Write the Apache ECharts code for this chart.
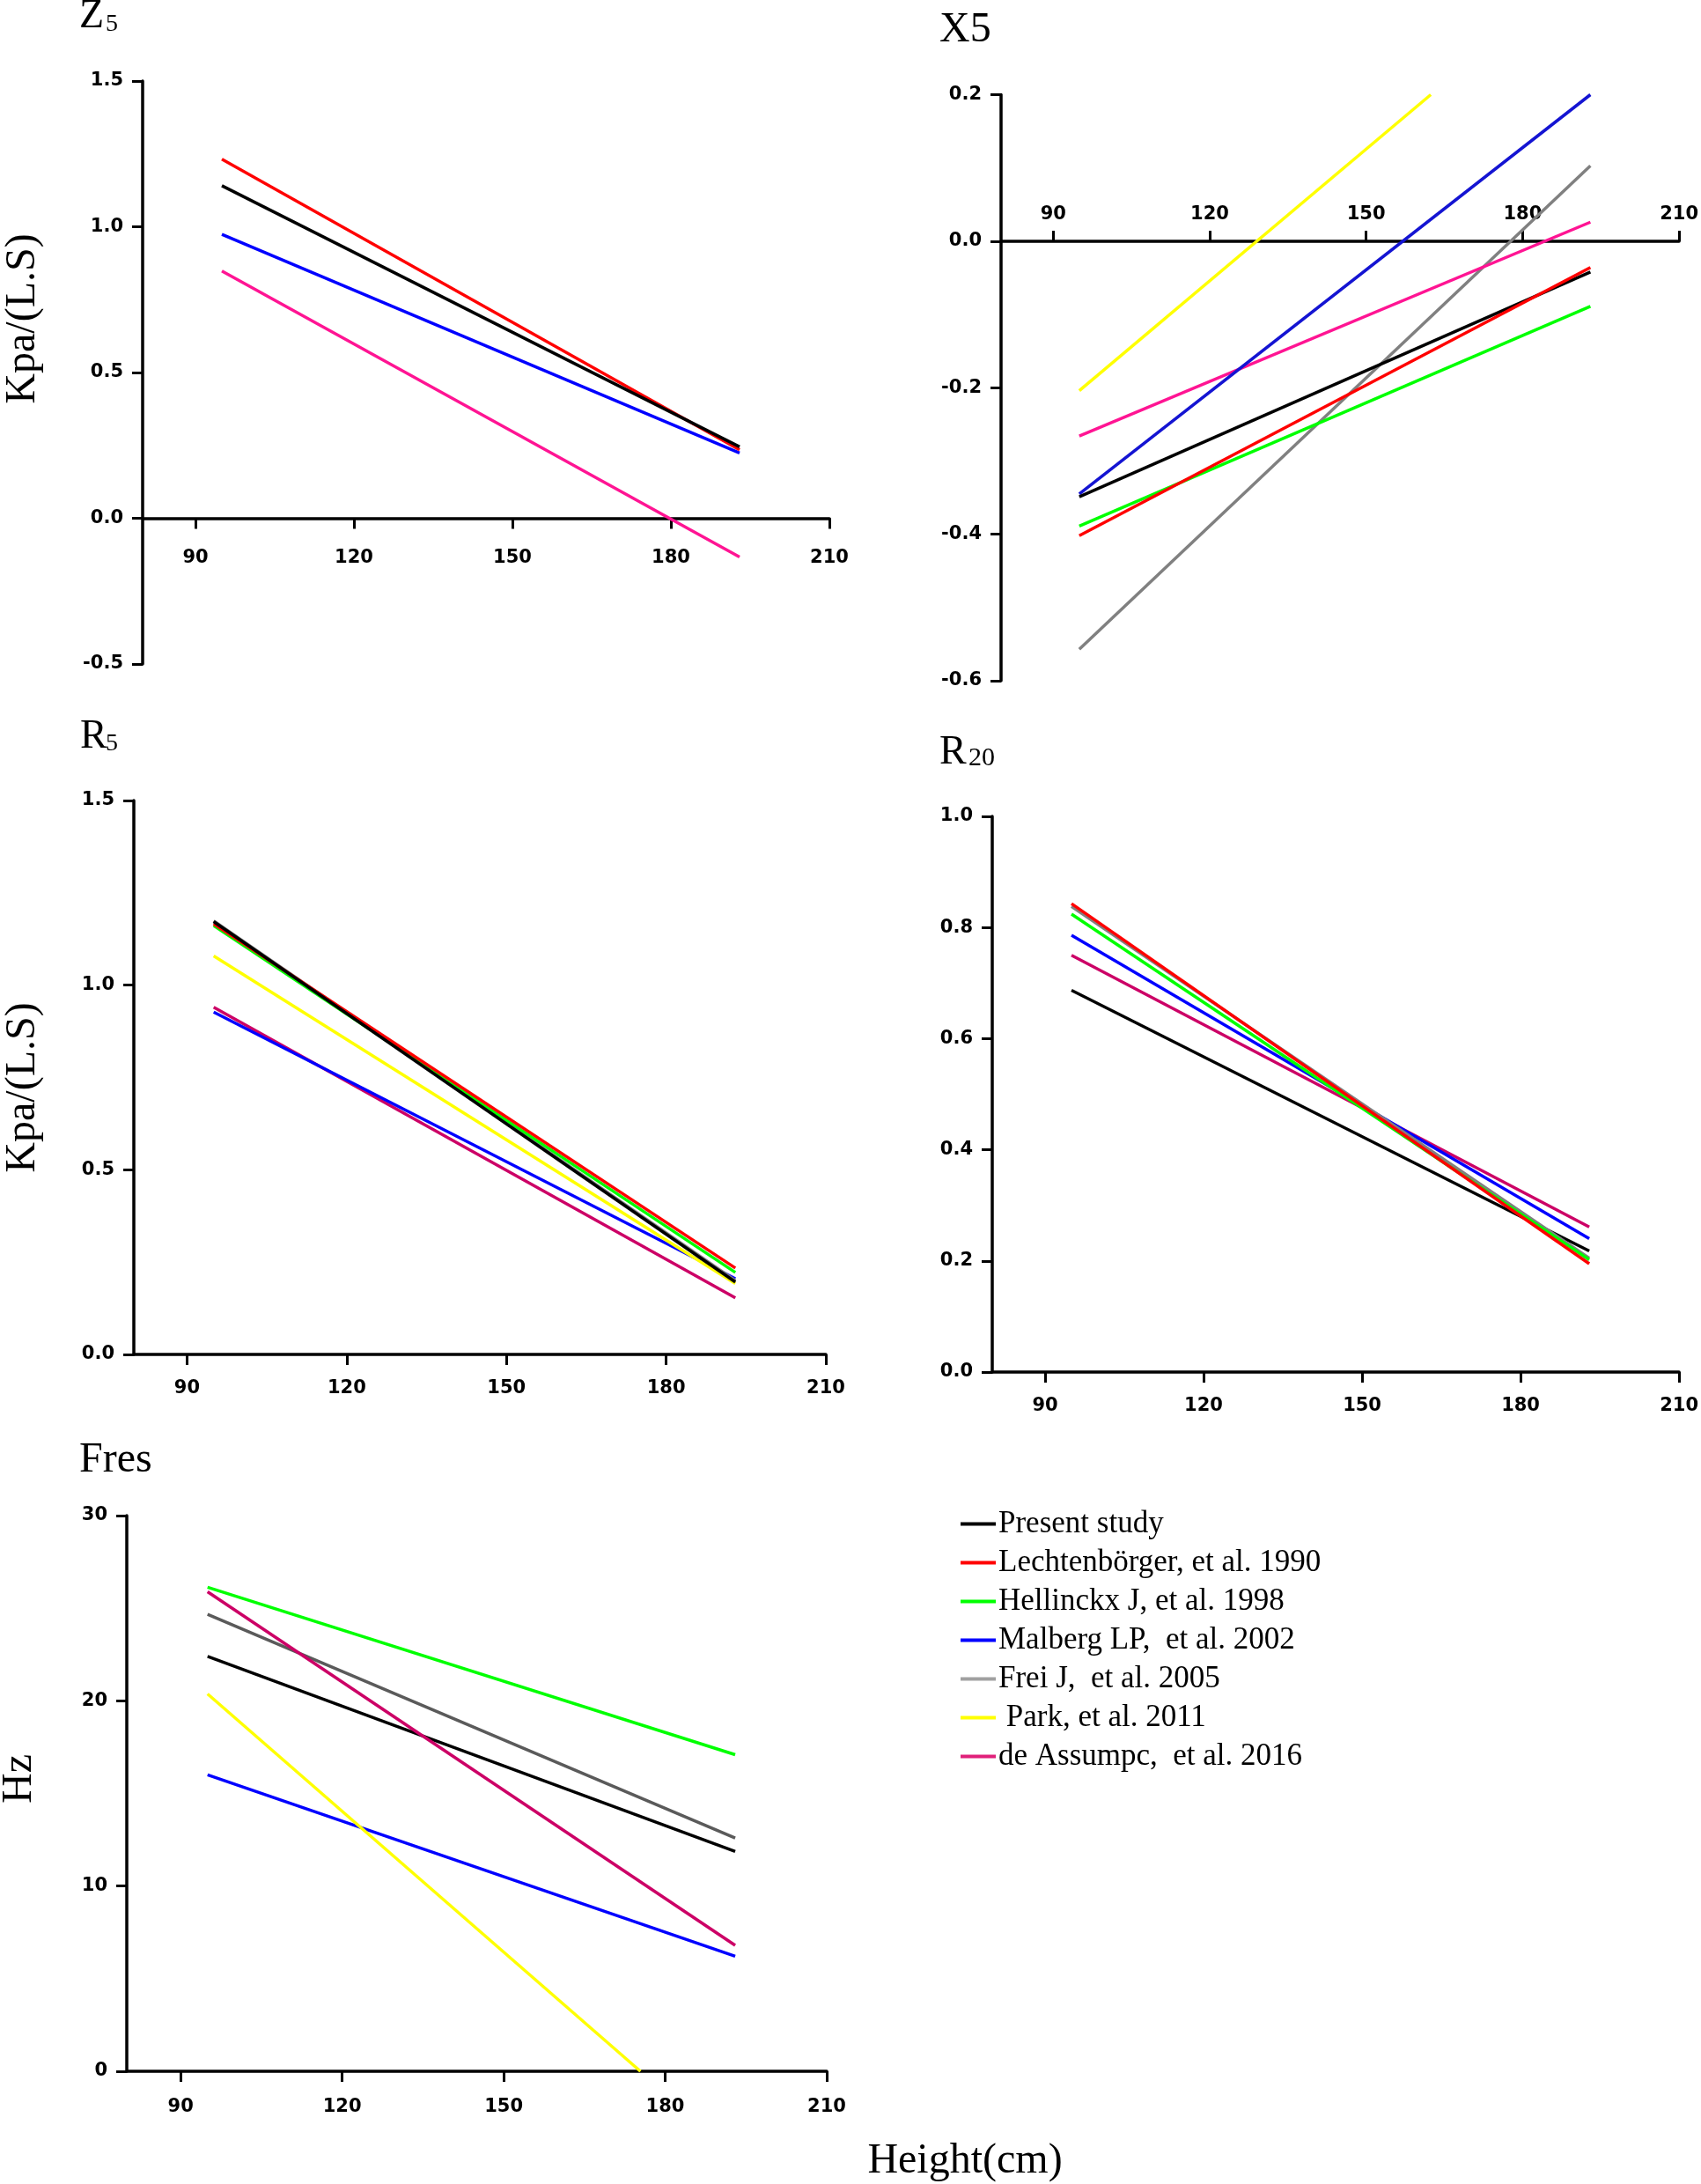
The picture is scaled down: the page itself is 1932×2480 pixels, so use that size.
<!DOCTYPE html>
<html><head><meta charset="utf-8">
<script src="https://cdn.jsdelivr.net/npm/echarts@6/dist/echarts.min.js"></script>
<style>html,body{margin:0;padding:0;background:#fff}#c{width:1932px;height:2480px}</style>
</head><body><div id="c"></div>
<script>
// ---------- data ----------
const xTickValues = [90, 120, 150, 180, 210];
const seriesNames = ['Present study', 'Lechtenbörger, et al. 1990', 'Hellinckx J, et al. 1998',
  'Malberg LP,  et al. 2002', 'Frei J,  et al. 2005', ' Park, et al. 2011', 'de Assumpc,  et al. 2016'];

// Z5 (Kpa/(L.S)) : [height, value]
const z5Present = [[95, 1.141], [193, 0.245]];
const z5Lecht   = [[95, 1.232], [193, 0.235]];
const z5Malberg = [[95, 0.974], [193, 0.224]];
const z5Assump  = [[95, 0.848], [193, -0.133]];

// X5
const x5Present = [[95, -0.349], [193, -0.042]];
const x5Lecht   = [[95, -0.402], [193, -0.036]];
const x5Hell    = [[95, -0.389], [193, -0.089]];
const x5Malberg = [[95, -0.345], [193, 0.200]];
const x5Frei    = [[95, -0.557], [193, 0.103]];
const x5Park    = [[95, -0.204], [162.4, 0.200]];
const x5Assump  = [[95, -0.266], [193, 0.026]];

// R5
const r5Present = [[95, 1.172], [193, 0.196]];
const r5Lecht   = [[95, 1.166], [193, 0.234]];
const r5Hell    = [[95, 1.161], [193, 0.222]];
const r5Malberg = [[95, 0.927], [193, 0.205]];
const r5Frei    = [[95, 1.174], [193, 0.200]];
const r5Park    = [[95, 1.079], [193, 0.192]];
const r5Assump  = [[95, 0.940], [193, 0.153]];

// R20
const r20Present = [[95, 0.687], [193, 0.218]];
const r20Lecht   = [[95, 0.843], [193, 0.195]];
const r20Hell    = [[95, 0.824], [193, 0.202]];
const r20Malberg = [[95, 0.786], [193, 0.240]];
const r20Frei    = [[95, 0.838], [193, 0.205]];
const r20Assump  = [[95, 0.750], [193, 0.261]];

// Fres (Hz)
const fresPresent = [[95, 22.4], [193, 11.87]];
const fresHell    = [[95, 26.13], [193, 17.09]];
const fresMalberg = [[95, 16.0], [193, 6.21]];
const fresFrei    = [[95, 24.67], [193, 12.59]];
const fresPark    = [[95, 20.37], [175.4, 0]];
const fresAssump  = [[95, 25.89], [193, 6.8]];

// ---------- layout / style ----------
const C = {black:'#000000', red:'#FF0000', green:'#00FF00', blue:'#0000FF', gray:'#808080',
           yellow:'#FFFF00', pink:'#FF1493', crimson:'#CC0066', darkblue:'#1414D2', dgray:'#5A5A5A'};

const panels = [
  { grid:{left:162, top:92, width:780, height:662}, y:{min:-0.5, max:1.5, interval:0.5, dec:1},
    xPos:'bottom', xMargin:-131,
    series:[[6, z5Assump, C.pink],[3, z5Malberg, C.blue],[1, z5Lecht, C.red],[0, z5Present, C.black]] },
  { grid:{left:1137, top:107.5, width:778, height:665.5}, y:{min:-0.6, max:0.2, interval:0.2, dec:1},
    xPos:'top', xMargin:-147,
    series:[[4, x5Frei, C.gray],[5, x5Park, C.yellow],[6, x5Assump, C.pink],[2, x5Hell, C.green],
            [3, x5Malberg, C.darkblue],[0, x5Present, C.black],[1, x5Lecht, C.red]] },
  { grid:{left:152, top:909, width:786, height:629}, y:{min:0, max:1.5, interval:0.5, dec:1},
    xPos:'bottom', xMargin:28,
    series:[[6, r5Assump, C.crimson],[3, r5Malberg, C.blue],[5, r5Park, C.yellow],[4, r5Frei, C.gray],
            [2, r5Hell, C.green],[1, r5Lecht, C.red],[0, r5Present, C.black]] },
  { grid:{left:1127, top:927, width:788, height:631}, y:{min:0, max:1.0, interval:0.2, dec:1},
    xPos:'bottom', xMargin:28,
    series:[[0, r20Present, C.black],[6, r20Assump, C.crimson],[3, r20Malberg, C.blue],
            [4, r20Frei, C.gray],[2, r20Hell, C.green],[1, r20Lecht, C.red]] },
  { grid:{left:144, top:1721, width:795, height:631}, y:{min:0, max:30, interval:10, dec:0},
    xPos:'bottom', xMargin:30,
    series:[[3, fresMalberg, C.blue],[5, fresPark, C.yellow],[4, fresFrei, C.dgray],
            [0, fresPresent, C.black],[2, fresHell, C.green],[6, fresAssump, C.crimson]] }
];

const tickFont = {fontFamily:'DejaVu Sans, Liberation Sans, sans-serif', fontWeight:'bold', fontSize:21, color:'#000'};
const axisLine = {show:true, onZero:true, lineStyle:{color:'#000', width:3.5}};

const grids = [], xAxes = [], yAxes = [], series = [];
panels.forEach((p, i) => {
  grids.push(Object.assign({containLabel:false}, p.grid));
  xAxes.push({
    type:'value', gridIndex:i, min:80, max:210, position:p.xPos,
    axisLine:axisLine, splitLine:{show:false},
    axisTick:{show:true, length:12, lineStyle:{color:'#000', width:3}, customValues:xTickValues},
    axisLabel:Object.assign({margin:p.xMargin, customValues:xTickValues}, tickFont)
  });
  yAxes.push({
    type:'value', gridIndex:i, min:p.y.min, max:p.y.max, interval:p.y.interval,
    axisLine:{show:true, onZero:false, lineStyle:{color:'#000', width:3.5}}, splitLine:{show:false},
    axisTick:{show:true, length:12, lineStyle:{color:'#000', width:3}},
    axisLabel:Object.assign({margin:22, formatter:v => Number(v).toFixed(p.y.dec)}, tickFont)
  });
  p.series.forEach(s => {
    series.push({
      type:'line', name:seriesNames[s[0]], xAxisIndex:i, yAxisIndex:i, data:s[1],
      showSymbol:false, symbol:'none', clip:true, silent:true,
      lineStyle:{color:s[2], width:3.5}, itemStyle:{color:s[2]}
    });
  });
});

const legendColors = ['#000000', '#FF0000', '#00FF00', '#0000FF', '#A0A0A0', '#FFFF00', '#E0207A'];
const serif = 'Liberation Serif, Times New Roman, serif';

function txt(x, y, text, size, opts) {
  return Object.assign({type:'text', x:x, y:y, silent:true,
    style:Object.assign({text:text, font:size + 'px ' + serif, fill:'#000',
      textAlign:'left', textVerticalAlign:'middle'}, (opts && opts.style) || {})},
    opts && opts.rotation ? {rotation:opts.rotation} : {});
}

const chart = echarts.init(document.getElementById('c'), null, {renderer:'canvas'});
chart.setOption({
  animation:false,
  backgroundColor:'#fff',
  grid:grids, xAxis:xAxes, yAxis:yAxes, series:series,
  legend:{
    orient:'vertical', left:1086, top:1708, icon:'rect', itemWidth:40, itemHeight:4, itemGap:9,
    selectedMode:false,
    textStyle:{fontFamily:serif, fontSize:35, lineHeight:35, color:'#000', padding:[0,0,0,-2]},
    data:seriesNames.map((n, k) => ({name:n, itemStyle:{color:legendColors[k]}, lineStyle:{color:legendColors[k]}}))
  },
  graphic:[
    txt(90, 19, 'Z', 46), txt(120, 28, '5', 28),
    txt(1067, 34, 'X5', 48),
    txt(91, 837, 'R', 46), txt(120, 845, '5', 28),
    txt(1067, 855, 'R', 46), txt(1100, 861, '20', 30),
    txt(90, 1658, 'Fres', 48),
    txt(26, 362, 'Kpa/(L.S)', 48, {rotation:Math.PI/2, style:{textAlign:'center'}}),
    txt(26, 1235, 'Kpa/(L.S)', 48, {rotation:Math.PI/2, style:{textAlign:'center'}}),
    txt(22, 2020, 'Hz', 48, {rotation:Math.PI/2, style:{textAlign:'center'}}),
    txt(1096, 2454, 'Height(cm)', 48, {style:{textAlign:'center'}})
  ]
});
</script></body></html>
